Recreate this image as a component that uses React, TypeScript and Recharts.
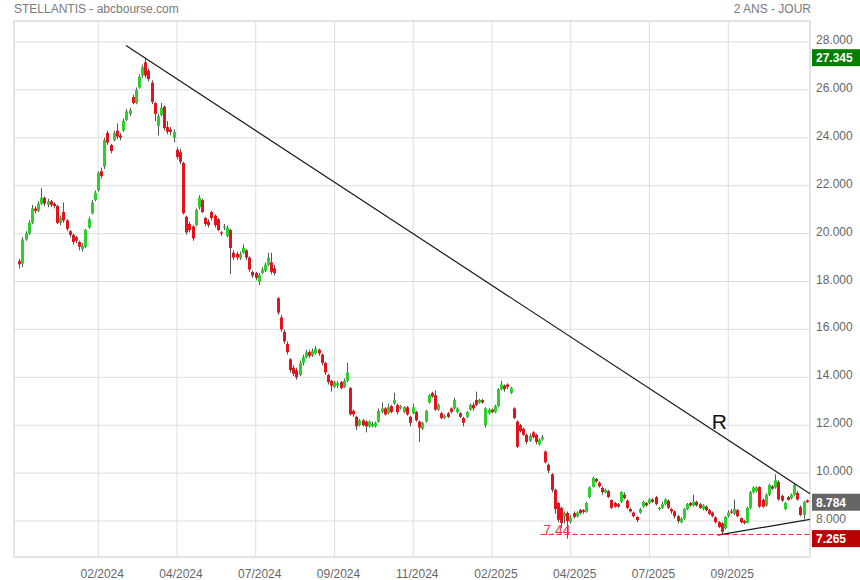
import { ComposedChart, Bar, XAxis, YAxis, CartesianGrid, ReferenceLine, ReferenceDot, ReferenceArea } from "recharts";

// one candle per two trading days: [open, high, low, close]
const ohlc: [number, number, number, number][] = [
  [18.85, 18.95, 18.55, 18.72], [18.75, 19.85, 18.6, 19.75], [19.75, 20.1, 19.7, 20.0], [20.0, 20.55, 19.95, 20.45],
  [20.45, 21.2, 20.4, 21.05], [21.05, 21.15, 20.85, 20.95], [20.95, 21.35, 20.9, 21.25], [21.25, 21.9, 21.2, 21.5],
  [21.5, 21.55, 21.15, 21.25], [21.2, 21.45, 21.1, 21.35], [21.35, 21.4, 21.1, 21.2], [21.25, 21.3, 21.05, 21.15],
  [21.15, 21.2, 20.4, 20.45], [20.45, 20.75, 20.35, 20.65], [20.9, 21.3, 20.45, 20.55], [20.55, 20.6, 20.1, 20.2],
  [20.1, 20.15, 19.85, 19.95], [19.95, 20.0, 19.55, 19.65], [19.85, 19.9, 19.6, 19.7], [19.65, 19.7, 19.3, 19.45],
  [19.35, 19.6, 19.25, 19.5], [19.45, 20.2, 19.4, 20.15], [20.25, 20.7, 20.2, 20.6], [20.85, 21.4, 20.8, 21.3],
  [21.4, 21.8, 21.35, 21.7], [21.8, 22.6, 21.75, 22.55], [22.6, 22.75, 22.3, 22.4], [22.8, 24.0, 22.7, 23.9],
  [24.2, 24.3, 23.7, 23.8], [23.7, 23.75, 23.35, 23.45], [23.9, 24.3, 23.85, 24.2], [24.3, 24.6, 23.95, 24.05],
  [24.1, 24.2, 23.9, 24.0], [24.3, 24.8, 24.25, 24.7], [24.75, 25.2, 24.7, 25.1], [25.0, 25.25, 24.9, 25.15],
  [25.7, 25.8, 25.4, 25.45], [25.45, 26.1, 25.4, 26.0], [26.1, 26.65, 26.05, 26.55], [26.6, 27.05, 26.5, 26.95],
  [27.15, 27.345, 26.5, 26.6], [26.8, 26.9, 26.35, 26.45], [26.3, 26.4, 25.4, 25.5], [25.45, 25.5, 24.7, 25.0],
  [24.5, 25.0, 24.1, 24.9], [24.95, 25.45, 24.9, 25.25], [25.3, 25.35, 24.3, 24.4], [24.45, 24.7, 24.15, 24.25],
  [24.35, 24.45, 24.1, 24.25], [24.0, 24.35, 23.8, 24.25], [23.5, 23.6, 23.1, 23.2], [23.4, 23.55, 22.9, 23.0],
  [22.95, 23.0, 20.8, 20.85], [20.7, 20.75, 19.95, 20.05], [20.4, 20.5, 20.05, 20.15], [20.3, 20.35, 19.7, 19.8],
  [20.35, 21.05, 20.3, 21.0], [21.1, 21.6, 21.0, 21.5], [21.4, 21.45, 20.85, 20.9], [20.65, 20.7, 20.3, 20.4],
  [20.5, 20.6, 20.25, 20.35], [20.9, 20.95, 20.55, 20.65], [20.75, 20.8, 20.25, 20.35], [20.6, 20.65, 20.1, 20.15],
  [20.05, 20.1, 19.9, 20.0], [20.25, 20.4, 20.15, 20.3], [19.9, 20.35, 19.85, 20.25], [20.15, 20.2, 18.3, 19.4],
  [19.2, 19.3, 18.9, 19.0], [19.15, 19.25, 18.9, 19.0], [18.97, 19.25, 18.9, 19.15], [19.2, 19.55, 19.15, 19.4],
  [19.3, 19.35, 18.9, 19.0], [19.0, 19.05, 18.4, 18.5], [18.4, 18.45, 18.15, 18.25], [18.35, 18.4, 18.05, 18.15],
  [17.98, 18.35, 17.85, 18.27], [18.35, 18.6, 18.3, 18.5], [18.45, 18.8, 18.4, 18.7], [18.7, 19.2, 18.65, 19.0],
  [18.8, 19.2, 18.3, 18.4], [18.55, 18.7, 18.25, 18.35], [17.3, 17.35, 16.6, 16.7], [16.5, 16.6, 15.9, 16.0],
  [15.9, 16.0, 15.4, 15.5], [15.4, 15.5, 14.95, 15.05], [14.75, 14.8, 14.2, 14.3], [14.4, 14.5, 14.05, 14.15],
  [14.3, 14.4, 13.9, 14.0], [14.1, 14.7, 14.05, 14.6], [14.6, 14.95, 14.5, 14.85], [14.85, 15.15, 14.8, 15.05],
  [15.05, 15.15, 14.8, 14.9], [14.9, 15.2, 14.85, 15.1], [15.0, 15.3, 14.95, 15.2], [15.15, 15.2, 14.9, 15.0],
  [14.95, 15.0, 14.5, 14.6], [14.6, 14.65, 14.1, 14.2], [14.1, 14.15, 13.7, 13.8], [13.85, 13.9, 13.4, 13.65],
  [13.6, 13.85, 13.55, 13.8], [13.65, 13.85, 13.55, 13.75], [13.8, 13.85, 13.5, 13.55], [13.6, 13.95, 13.55, 13.85],
  [13.85, 14.6, 13.8, 14.2], [13.55, 13.6, 12.4, 12.45], [12.6, 12.65, 12.35, 12.45], [12.35, 12.4, 11.8, 11.95],
  [12.0, 12.25, 11.95, 12.2], [12.2, 12.25, 11.95, 12.0], [12.15, 12.2, 11.7, 11.95], [11.95, 12.2, 11.9, 12.15],
  [11.95, 12.15, 11.9, 12.05], [11.95, 12.15, 11.9, 12.1], [12.15, 12.7, 12.1, 12.6], [12.55, 12.95, 12.5, 12.7],
  [12.7, 12.75, 12.4, 12.45], [12.5, 12.9, 12.45, 12.75], [12.8, 12.85, 12.5, 12.55], [12.9, 13.35, 12.85, 13.05],
  [12.85, 12.9, 12.45, 12.55], [12.7, 12.85, 12.65, 12.8], [12.55, 12.8, 12.5, 12.75], [12.75, 12.8, 12.4, 12.45],
  [12.35, 12.4, 11.95, 12.1], [12.5, 12.9, 12.45, 12.75], [12.55, 12.6, 12.15, 12.2], [12.15, 12.2, 11.3, 11.9],
  [11.85, 12.15, 11.8, 12.1], [12.15, 12.65, 12.1, 12.6], [12.95, 13.3, 12.9, 13.25], [13.35, 13.4, 13.15, 13.2],
  [13.25, 13.45, 12.6, 12.65], [12.65, 12.9, 12.6, 12.85], [12.5, 12.55, 12.25, 12.3], [12.3, 12.45, 12.25, 12.4],
  [12.5, 12.55, 12.3, 12.35], [12.7, 12.75, 12.5, 12.55], [12.7, 13.15, 12.65, 13.05], [12.55, 12.75, 12.5, 12.7],
  [12.5, 12.55, 12.3, 12.35], [12.3, 12.35, 11.95, 12.1], [12.35, 12.6, 12.3, 12.55], [12.65, 12.9, 12.6, 12.85],
  [12.85, 12.95, 12.6, 12.7], [13.05, 13.4, 12.8, 12.85], [12.95, 13.1, 12.9, 13.05], [13.05, 13.1, 12.9, 12.95],
  [12.0, 12.75, 11.9, 12.7], [12.5, 12.7, 12.45, 12.65], [12.65, 12.7, 12.5, 12.55], [12.55, 12.85, 12.5, 12.8],
  [12.8, 13.55, 12.75, 13.5], [13.5, 13.85, 13.45, 13.7], [13.65, 13.7, 13.4, 13.5], [13.7, 13.75, 13.5, 13.6],
  [13.35, 13.6, 13.3, 13.55], [12.7, 12.75, 12.25, 12.3], [12.15, 12.2, 11.05, 11.1], [12.0, 12.05, 11.7, 11.75],
  [11.85, 11.9, 11.55, 11.6], [11.6, 11.65, 11.2, 11.3], [11.35, 11.65, 11.3, 11.55], [11.7, 11.75, 11.45, 11.5],
  [11.6, 11.65, 11.2, 11.3], [11.2, 11.45, 11.15, 11.4], [11.4, 11.6, 11.35, 11.5], [10.9, 10.95, 10.4, 10.45],
  [10.35, 10.4, 10.0, 10.1], [9.95, 10.0, 9.2, 9.3], [9.3, 9.35, 8.3, 8.5], [8.75, 8.8, 7.95, 8.05],
  [8.55, 8.6, 7.7, 7.92], [8.17, 8.4, 7.9, 8.33], [8.33, 8.4, 7.265, 8.0], [7.96, 8.25, 7.9, 8.17],
  [8.33, 8.4, 8.1, 8.17], [8.2, 8.4, 8.15, 8.35], [8.46, 8.5, 8.28, 8.33], [8.45, 8.5, 8.3, 8.38],
  [8.38, 8.8, 8.35, 8.75], [9.0, 9.45, 8.95, 9.4], [9.42, 9.85, 9.4, 9.8], [9.75, 9.8, 9.6, 9.65],
  [9.6, 9.65, 9.4, 9.45], [9.38, 9.45, 9.1, 9.2], [9.2, 9.35, 9.15, 9.3], [9.25, 9.3, 8.95, 9.0],
  [8.88, 8.9, 8.5, 8.55], [8.75, 8.8, 8.55, 8.6], [8.7, 8.75, 8.55, 8.6], [8.8, 9.25, 8.75, 9.2],
  [9.1, 9.2, 8.9, 8.95], [8.85, 8.9, 8.5, 8.55], [8.5, 8.55, 8.35, 8.4], [8.35, 8.4, 8.15, 8.2],
  [8.17, 8.2, 7.95, 8.04], [8.35, 8.55, 8.3, 8.5], [8.6, 8.85, 8.55, 8.8], [8.75, 8.8, 8.6, 8.65],
  [8.75, 8.95, 8.7, 8.9], [8.9, 8.95, 8.75, 8.8], [9.0, 9.05, 8.65, 8.7], [8.5, 8.6, 8.45, 8.55],
  [8.55, 8.8, 8.5, 8.7], [8.7, 8.95, 8.65, 8.9], [8.85, 8.9, 8.5, 8.55], [8.5, 8.55, 8.3, 8.4],
  [8.4, 8.45, 8.1, 8.2], [8.2, 8.25, 7.9, 8.0], [7.95, 8.15, 7.9, 8.1], [8.1, 8.55, 8.05, 8.5],
  [8.5, 8.75, 8.45, 8.7], [8.75, 8.8, 8.6, 8.65], [8.65, 9.1, 8.6, 8.8], [8.8, 8.85, 8.6, 8.65],
  [8.7, 8.75, 8.5, 8.55], [8.5, 8.7, 8.45, 8.65], [8.6, 8.65, 8.4, 8.45], [8.45, 8.5, 8.25, 8.3],
  [8.35, 8.4, 8.15, 8.2], [8.15, 8.2, 7.9, 7.95], [7.95, 8.0, 7.7, 7.75], [7.9, 7.95, 7.44, 7.55],
  [7.7, 8.2, 7.65, 8.17], [8.2, 8.45, 8.15, 8.35], [8.4, 8.5, 8.3, 8.35], [8.3, 8.9, 8.25, 8.5],
  [8.45, 8.5, 8.15, 8.2], [8.12, 8.15, 7.9, 7.95], [8.0, 8.05, 7.85, 7.92], [7.92, 8.6, 7.9, 8.55],
  [8.55, 9.25, 8.5, 9.2], [9.2, 9.45, 9.15, 9.4], [9.25, 9.45, 9.2, 9.4], [9.42, 9.45, 8.55, 8.6],
  [8.88, 8.95, 8.55, 8.6], [8.65, 9.15, 8.6, 9.1], [9.1, 9.55, 9.05, 9.5], [9.45, 9.5, 9.3, 9.35],
  [9.4, 9.95, 9.35, 9.7], [9.63, 9.7, 8.85, 8.9], [9.05, 9.1, 8.8, 8.85], [8.5, 8.8, 8.45, 8.75],
  [9.0, 9.05, 8.85, 8.88], [8.95, 9.15, 8.9, 9.1], [9.1, 9.55, 9.05, 9.5], [9.17, 9.25, 8.85, 8.9],
  [8.58, 8.65, 8.2, 8.25], [8.25, 8.85, 8.08, 8.8], [8.86, 8.9, 8.75, 8.784],
];

const tickIdx = [25, 50, 75, 100, 125, 150, 175, 200, 225];
const tickLabels = ["02/2024", "04/2024", "07/2024", "09/2024", "11/2024", "02/2025", "04/2025", "07/2025", "09/2025"];
const yTicks = [8, 10, 12, 14, 16, 18, 20, 22, 24, 26, 28];
const xDomain = [-1.75, 250.95];
const yDomain = [6.497, 28.877];

// drawn lines, in candle index / price
const resistance = [{ x: 33.8, y: 27.85 }, { x: 250.95, y: 9.14 }];
const support = [{ x: 221.6, y: 7.41 }, { x: 250.95, y: 8.07 }];
const lowLevel = { from: 165.4, value: 7.44, text: "7.44", textX: 170.6, textY: 7.64 };
const rMark = { x: 222.2, y: 12.15 };

const priceTags = [
  { value: 27.345, text: "27.345", color: "#008000" },
  { value: 8.784, text: "8.784", color: "#666666" },
  { value: 7.265, text: "7.265", color: "#bb0000" },
];

const data = ohlc.map(([o, h, l, c], i) => ({ i, o, h, l, c }));

const FONT = "'Liberation Sans', Arial, sans-serif";
const UP = "#2bd12b";
const DOWN = "#e3121b";

function Candle(props: any) {
  const { x, y, width, height, payload } = props;
  const { o, h, l, c } = payload;
  const top = Math.min(y, y + height);
  const bot = Math.max(y, y + height);
  const ppu = (bot - top) / (h - l);
  const yo = top + (h - o) * ppu;
  const yc = top + (h - c) * ppu;
  const cx = Math.floor(x + width / 2);
  const bTop = Math.min(yo, yc);
  const bH = Math.max(1, Math.abs(yc - yo));
  return (
    <g>
      <line x1={cx + 0.5} x2={cx + 0.5} y1={top} y2={bot} stroke="#555" strokeWidth={1} />
      <rect x={cx - 1} y={bTop} width={3} height={bH} fill={c >= o ? UP : DOWN} />
    </g>
  );
}

function XTick(props: any) {
  const { x, y, payload } = props;
  const k = tickIdx.indexOf(payload.value);
  return (
    <text x={x + 4} y={y + 13} textAnchor="middle" fontSize={12} fill="#666" fontFamily={FONT}>
      {tickLabels[k]}
    </text>
  );
}

function YTick(props: any) {
  const { x, y, payload } = props;
  return (
    <text x={x} y={y + 2} textAnchor="start" fontSize={12} fill="#666" fontFamily={FONT}>
      {payload.value.toFixed(3)}
    </text>
  );
}

function tagShape(tag: { text: string; color: string }) {
  return (p: any) => (
    <g>
      <rect x={p.cx + 2} y={p.cy - 8.5} width={48} height={17} fill={tag.color} />
      <text x={p.cx + 6} y={p.cy + 4.5} fontSize={12} fill="#fff" fontFamily={FONT} fontWeight="bold">
        {tag.text}
      </text>
    </g>
  );
}

export default function App() {
  return (
    <div style={{ position: "absolute", left: 0, top: 0, width: 860, height: 580, fontFamily: FONT }}>
      <div style={{ position: "absolute", left: 14, top: 2, fontSize: 12, color: "#7a7a7a" }}>STELLANTIS - abcbourse.com</div>
      <div style={{ position: "absolute", right: 49, top: 2, fontSize: 12, color: "#7a7a7a" }}>2 ANS - JOUR</div>
      <ComposedChart width={860} height={580} data={data} margin={{ top: 21, right: 0, bottom: 0, left: 14 }}>
        <CartesianGrid stroke="#dedede" />
        <ReferenceArea x1={xDomain[0]} x2={xDomain[1]} y1={yDomain[0]} y2={yDomain[1]} fill="none" stroke="#d8d8d8" ifOverflow="visible" />
        <XAxis
          dataKey="i"
          type="number"
          domain={xDomain}
          ticks={tickIdx}
          allowDataOverflow
          axisLine={false}
          tickLine={false}
          height={23}
          tick={<XTick />}
        />
        <YAxis
          orientation="right"
          type="number"
          domain={yDomain}
          ticks={yTicks}
          allowDataOverflow
          axisLine={false}
          tickLine={false}
          tickSize={0}
          tickMargin={6}
          width={50}
          tick={<YTick />}
        />
        <Bar dataKey={(d: any) => [d.l, d.h]} shape={<Candle />} isAnimationActive={false} />
        <ReferenceLine segment={resistance} stroke="#1a1a1a" strokeWidth={1.2} ifOverflow="visible" />
        <ReferenceLine segment={support} stroke="#1a1a1a" strokeWidth={1.2} ifOverflow="visible" />
        <ReferenceLine
          segment={[{ x: lowLevel.from, y: lowLevel.value }, { x: xDomain[1], y: lowLevel.value }]}
          stroke="#e82020"
          strokeDasharray="5 3"
          ifOverflow="visible"
        />
        <ReferenceDot
          x={lowLevel.textX}
          y={lowLevel.textY}
          r={0}
          fill="none"
          stroke="none"
          label={{ value: lowLevel.text, position: "center", fontSize: 14, fill: "#f03a3a", fontFamily: FONT }}
        />
        <ReferenceDot
          x={rMark.x}
          y={rMark.y}
          r={0}
          fill="none"
          stroke="none"
          label={{ value: "R", position: "center", fontSize: 21, fill: "#111", fontFamily: FONT }}
        />
        {priceTags.map((t) => (
          <ReferenceDot key={t.text} x={xDomain[1]} y={t.value} r={0} ifOverflow="visible" shape={tagShape(t)} />
        ))}
      </ComposedChart>
    </div>
  );
}
